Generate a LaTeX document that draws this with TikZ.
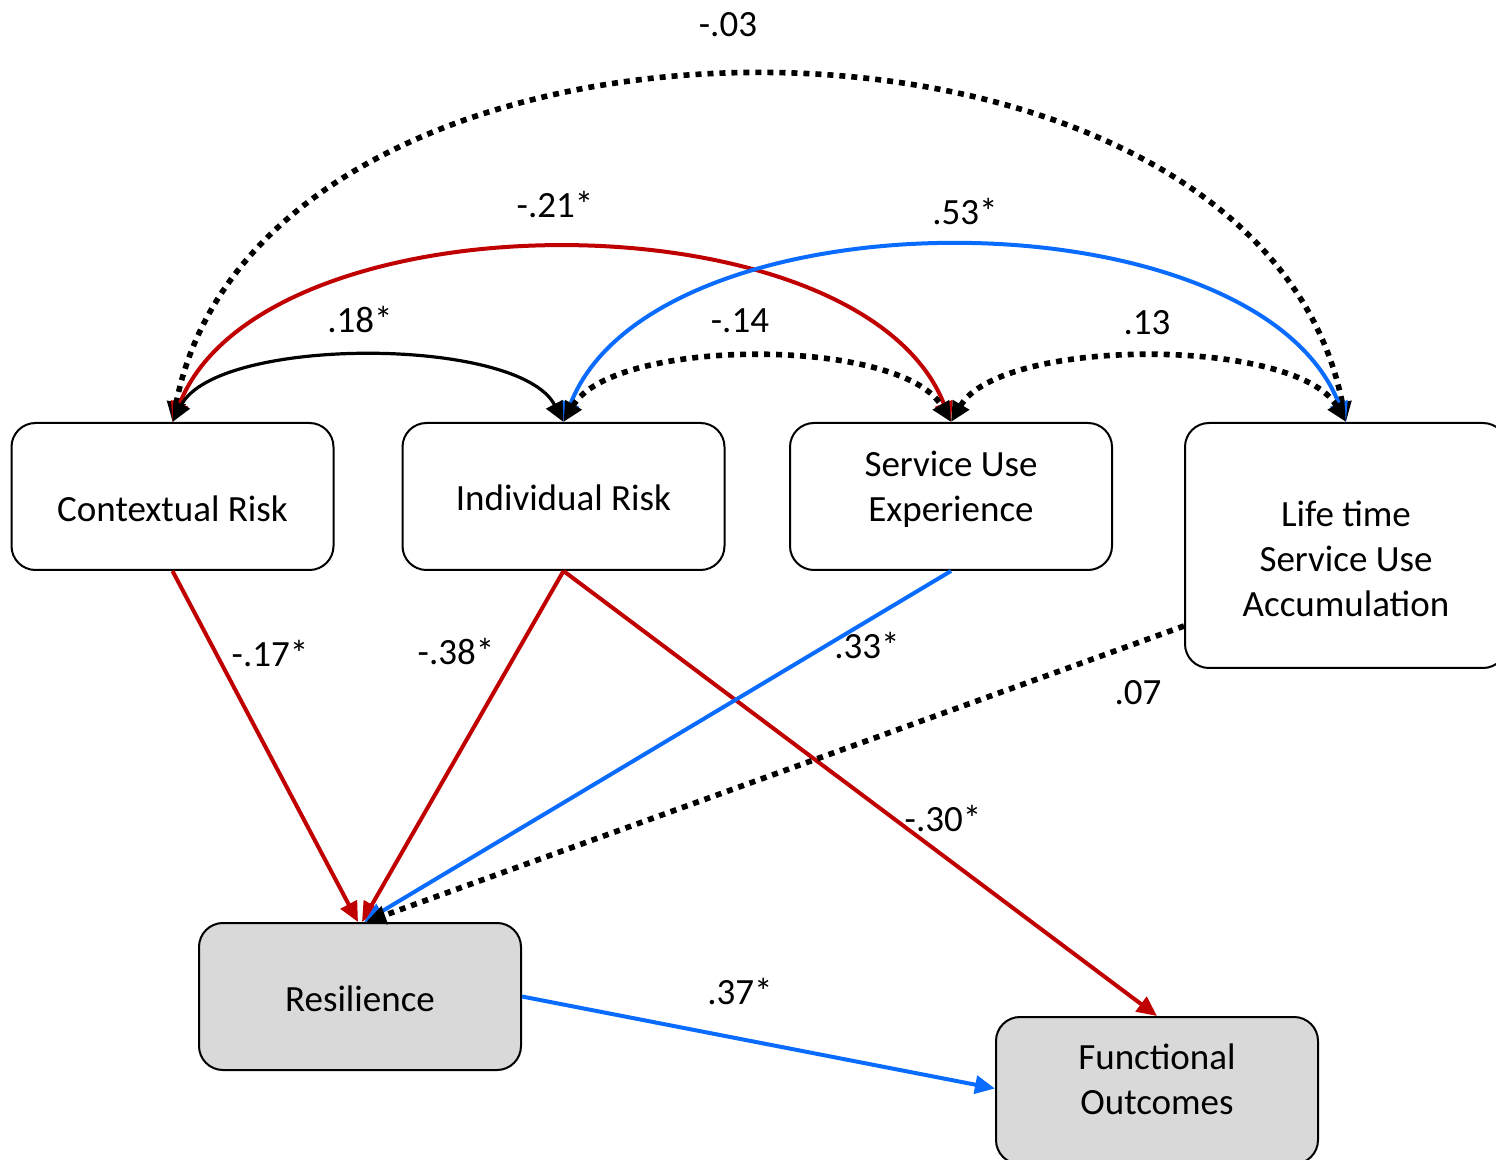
\documentclass[tikz,border=0pt]{standalone}
\usepackage{fontspec}
\setmainfont{Carlito}
\usetikzlibrary{arrows.meta,calc}
\definecolor{redc}{HTML}{C00000}
\definecolor{bluec}{HTML}{0A6CFF}
\definecolor{grayc}{HTML}{D9D9D9}
\newcommand{\boxtext}[2]{\raisebox{#1}[0pt][0pt]{\begin{tabular}{@{}c@{}}#2\end{tabular}}}
\begin{document}
\begin{tikzpicture}[x=0.5pt,y=-0.5pt,
  box/.style={draw=black,line width=1pt,rounded corners=12pt,minimum width=161pt,minimum height=73.5pt,inner sep=0pt,align=center,font=\fontsize{18.5}{22.5}\selectfont},
  gbox/.style={box,fill=grayc},
  lab/.style={font=\fontsize{18.5}{22}\selectfont,inner sep=0pt},
  tipA/.style={-{Triangle[length=10pt,width=9pt]}},
  tipB/.style={{Triangle[length=10pt,width=9pt]}-{Triangle[length=10pt,width=9pt]}},
  redl/.style={draw=redc,line width=2pt},
  bluel/.style={draw=bluec,line width=2pt},
  blackl/.style={draw=black,line width=1.6pt},
  dotl/.style={draw=black,line width=2.8pt,dash pattern=on 3pt off 3pt}]
\useasboundingbox[clip] (0,0) rectangle (1496,1160);
\fill[white] (0,0) rectangle (1496,1160);
% boxes
\node[box] (ctx) at (172.5,496.5) {\boxtext{-12.1pt}{Contextual Risk}};
\node[box] (ind) at (563.5,496.5) {\boxtext{-6.6pt}{Individual Risk}};
\node[box] (sue) at (951,496.5) {\boxtext{-1.1pt}{Service Use\\Experience}};
\node[box,minimum height=122.5pt] (life) at (1346,545.5) {\boxtext{-12.6pt}{Life time\\Service Use\\Accumulation}};
\node[gbox] (res) at (360,996.5) {\boxtext{-7.1pt}{Resilience}};
\node[gbox] (fun) at (1157,1090.5) {\boxtext{-0.6pt}{Functional\\Outcomes}};
\coordinate (lifeL) at ($(life.south west)+(0,-43)$);
% straight paths
\draw[redl,tipA] (ctx.south) -- ($(res.north)+(-2,0)$);
\draw[redl,tipA] (ind.south) -- ($(res.north)+(2,0)$);
\draw[redl,tipA] (ind.south) -- (fun.north);
\draw[bluel,tipA] (sue.south) -- ($(res.north)+(4,0)$);
\draw[dotl,tipA] (lifeL) -- ($(res.north)+(6,0)$);
\draw[bluel,tipA] (res.east) -- ($(fun.west)+(0,-2)$);
% curved paths
\draw[dotl,tipB] (ctx.north) .. controls +(90,-460) and +(-90,-460) .. (life.north);
\draw[redl,tipB] (ctx.north) .. controls +(90,-230) and +(-90,-230) .. (sue.north);
\draw[bluel,tipB] (ind.north) .. controls +(90,-233) and +(-90,-233) .. (life.north);
\draw[blackl,tipB] (ctx.north) .. controls +(45,-86) and +(-45,-86) .. (ind.north);
\draw[dotl,tipB] (ind.north) .. controls +(50,-85) and +(-50,-85) .. (sue.north);
\draw[dotl,tipB] (sue.north) .. controls +(50,-85) and +(-50,-85) .. (life.north);
% labels
\node[lab] (l1) at (728,25) {-.03};
\node[lab] (l2) at (555,205) {-.21*};
\node[lab] (l3) at (965,212) {.53*};
\node[lab] (l4) at (360,320) {.18*};
\node[lab] (l5) at (740,321) {-.14};
\node[lab] (l6) at (1147,323) {.13};
\node[lab] (l7) at (270,654) {-.17*};
\node[lab] (l8) at (456,652) {-.38*};
\node[lab] (l9) at (867,646) {.33*};
\node[lab] (l10) at (1138,693) {.07};
\node[lab] (l11) at (943,819) {-.30*};
\node[lab] (l12) at (740,992) {.37*};
\end{tikzpicture}
\end{document}
